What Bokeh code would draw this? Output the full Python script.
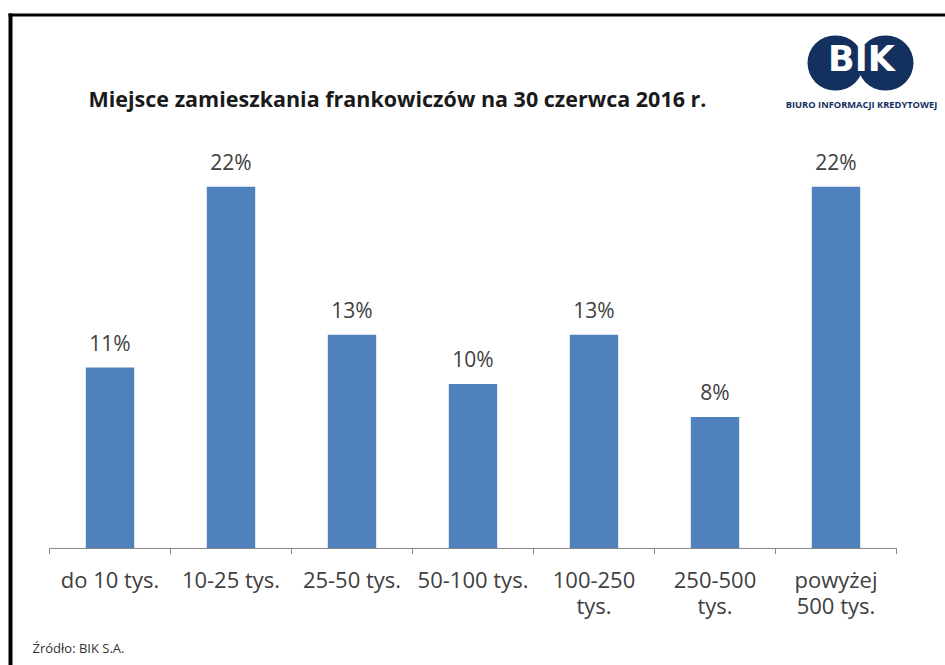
from bokeh.plotting import figure
from bokeh.models import FactorRange, Range1d, Label, BoxAnnotation
from bokeh.core.properties import value
from bokeh.embed import file_html
from bokeh.resources import INLINE

# Town size groups and share of CHF-loan borrowers living in each (%)
categories = ["do 10 tys.", "10-25 tys.", "25-50 tys.", "50-100 tys.",
              "100-250\ntys.", "250-500\ntys.", "powyżej\n500 tys."]
shares = [11, 22, 13, 10, 13, 8, 22]
share_labels = [f"{v}%" for v in shares]

title_text = "Miejsce zamieszkania frankowiczów na 30 czerwca 2016 r."
source_text = "Źródło: BIK S.A."
logo_text = "BIK"
logo_subtext = "BIURO INFORMACJI KREDYTOWEJ"

FONT = "Open Sans"
LOGO_FONT = "DejaVu Sans"
TEXT_GREY = "#404040"
BAR_BLUE = "#4F81BD"
AXIS_GREY = "#868686"
NAVY = "#14305F"

W, H = 945, 665

# the plotting frame fills the whole canvas; the value axis runs from
# y_start (bottom edge) to y_end (top edge), zero sits near the lower edge
p = figure(x_range=FactorRange(*categories, range_padding=98 / 847),
           y_range=Range1d(-7.12, 33.33),
           width=W, height=H, output_backend="svg", toolbar_location=None,
           x_axis_location=None, y_axis_location=None, min_border=0)
p.outline_line_color = None
p.xgrid.visible = False
p.ygrid.visible = False
p.background_fill_color = "white"
p.border_fill_color = "white"

# bars and their value labels
p.vbar(x=categories, top=shares, bottom=0, width=0.4,
       fill_color=BAR_BLUE, line_color=None)
p.text(x=categories, y=shares, text=share_labels, text_align="center",
       text_baseline="alphabetic", y_offset=-25, text_font=value(FONT),
       text_font_size="21px", text_color=TEXT_GREY)

# category axis: baseline, tick marks between categories, category names
p.segment(x0=[(categories[0], -0.5)], y0=[0], x1=[(categories[-1], 0.5)], y1=[0],
          line_color=AXIS_GREY, line_width=1)
tick_x = [(c, -0.5) for c in categories] + [(categories[-1], 0.5)]
p.segment(x0=tick_x, y0=[0] * len(tick_x), x1=tick_x, y1=[-0.35] * len(tick_x),
          line_color=AXIS_GREY, line_width=1)
p.text(x=categories, y=[0] * len(categories), text=categories,
       text_align="center", text_baseline="top", y_offset=16,
       text_line_height=0.85, text_font=value(FONT), text_font_size="22px",
       text_color=TEXT_GREY)


def sy(y):
    # canvas y (from top) -> screen units measured from the bottom edge
    return H - y


def screen_box(x0, x1, y0, y1, color, radius=0):
    return BoxAnnotation(left=x0, right=x1, top=sy(y0), bottom=sy(y1),
                         left_units="screen", right_units="screen",
                         top_units="screen", bottom_units="screen",
                         fill_color=color, fill_alpha=1, line_color=None,
                         border_radius=radius)


def screen_label(x, y, text, size, color, align="left", bold=False, font=FONT):
    return Label(x=x, y=sy(y), x_units="screen", y_units="screen", text=text,
                 text_align=align, text_baseline="alphabetic", text_font=font,
                 text_font_style="bold" if bold else "normal",
                 text_font_size=size, text_color=color)


# page frame lines
p.add_layout(screen_box(8, 12, 13, 665, "black"))
p.add_layout(screen_box(8, 945, 13, 16, "black"))

# logo: two overlapping discs with the letters across them
p.add_layout(screen_box(807, 863, 35, 90, NAVY, 28))
p.add_layout(screen_box(857, 913, 35, 90, NAVY, 28))
p.add_layout(screen_label(861, 58, logo_text, "35px", "white", "center", True,
                          LOGO_FONT))
p.add_layout(screen_label(861, 103.5, logo_subtext, "9.3px", NAVY, "center", True))

# title and source note
p.add_layout(screen_label(88, 97.5, title_text, "21.5px", "#1a1a1a", bold=True))
p.add_layout(screen_label(32, 647, source_text, "13px", "#333333"))

open("out.html", "w").write(file_html(p, INLINE))
